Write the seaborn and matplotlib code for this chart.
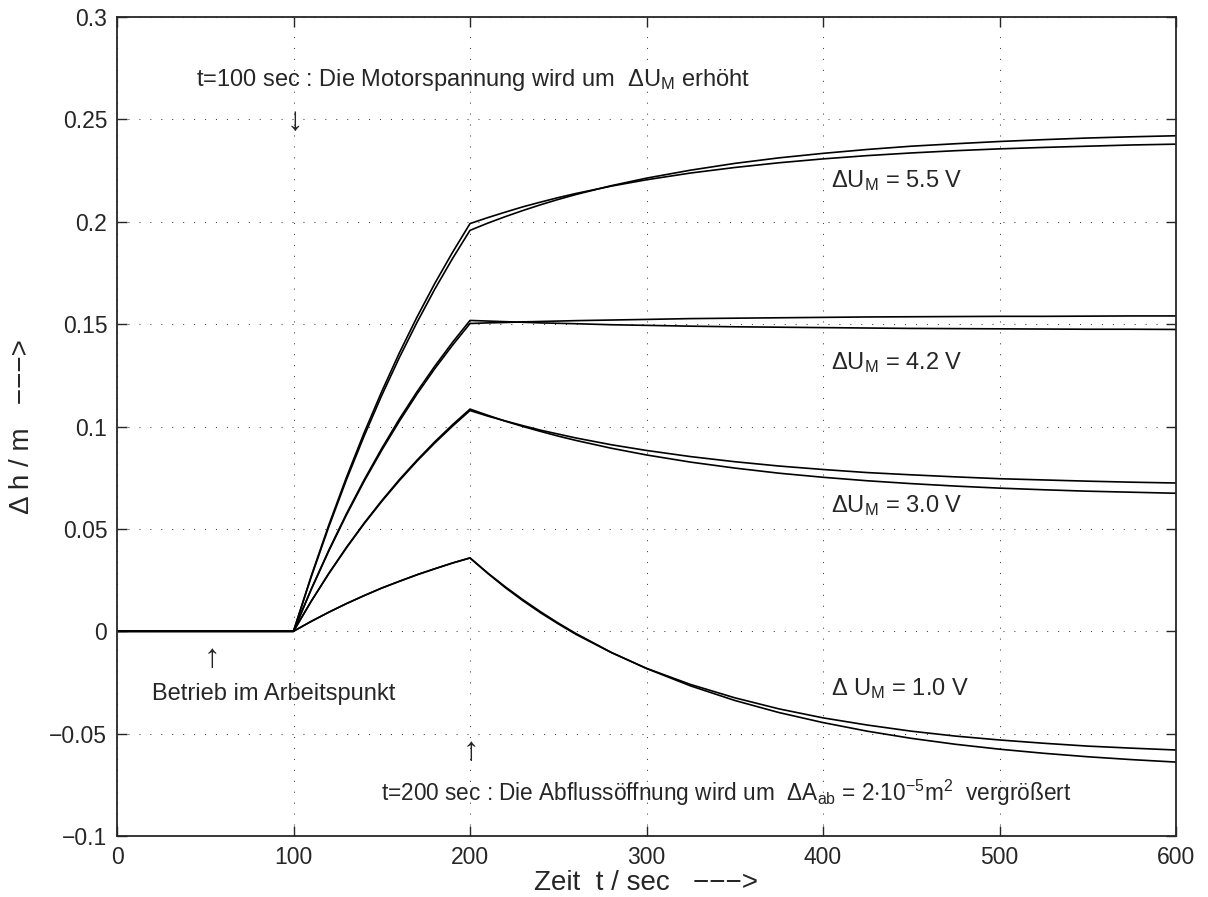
import matplotlib
matplotlib.use("Agg")
import matplotlib.pyplot as plt
import pandas as pd
import seaborn as sns

# time axis (sec) and the read-off level changes (m), two model curves per step
t = [0, 100, 110, 120, 130, 140, 150, 160, 170, 180, 190, 200,
     210, 220, 230, 240, 250, 260, 280, 300, 325, 350, 375, 400, 425, 450, 475, 500,
     525, 550, 575, 600]

h55_a = [0, 0, 0.0269, 0.0519, 0.0752, 0.0969, 0.1171, 0.1360, 0.1535, 0.1698, 0.1849, 0.1991,
         0.2020, 0.2047, 0.2073, 0.2096, 0.2118, 0.2138, 0.2174, 0.2205, 0.2238, 0.2265,
         0.2288, 0.2307, 0.2323, 0.2336, 0.2347, 0.2356, 0.2363, 0.2369, 0.2375, 0.2379]
h55_b = [0, 0, 0.0264, 0.0510, 0.0740, 0.0953, 0.1152, 0.1337, 0.1509, 0.1670, 0.1819, 0.1958,
         0.1993, 0.2025, 0.2055, 0.2083, 0.2109, 0.2133, 0.2176, 0.2213, 0.2252, 0.2285,
         0.2312, 0.2334, 0.2353, 0.2369, 0.2381, 0.2392, 0.2401, 0.2409, 0.2415, 0.2420]
h42_a = [0, 0, 0.0205, 0.0396, 0.0574, 0.0739, 0.0893, 0.1037, 0.1170, 0.1294, 0.1410, 0.1518,
         0.1515, 0.1512, 0.1509, 0.1506, 0.1504, 0.1502, 0.1497, 0.1494, 0.1490, 0.1487,
         0.1485, 0.1483, 0.1481, 0.1479, 0.1478, 0.1477, 0.1476, 0.1475, 0.1475, 0.1474]
h42_b = [0, 0, 0.0203, 0.0392, 0.0568, 0.0732, 0.0884, 0.1026, 0.1159, 0.1282, 0.1396, 0.1503,
         0.1506, 0.1508, 0.1511, 0.1513, 0.1515, 0.1517, 0.1520, 0.1523, 0.1527, 0.1529,
         0.1531, 0.1533, 0.1535, 0.1536, 0.1537, 0.1538, 0.1538, 0.1539, 0.1540, 0.1540]
h30_a = [0, 0, 0.0146, 0.0283, 0.0410, 0.0528, 0.0638, 0.0741, 0.0836, 0.0925, 0.1008, 0.1085,
         0.1055, 0.1026, 0.1000, 0.0976, 0.0953, 0.0932, 0.0894, 0.0861, 0.0826, 0.0797,
         0.0772, 0.0752, 0.0735, 0.0721, 0.0709, 0.0699, 0.0691, 0.0684, 0.0679, 0.0674]
h30_b = [0, 0, 0.0146, 0.0281, 0.0407, 0.0525, 0.0634, 0.0736, 0.0831, 0.0919, 0.1001, 0.1078,
         0.1051, 0.1027, 0.1004, 0.0982, 0.0963, 0.0944, 0.0911, 0.0883, 0.0853, 0.0828,
         0.0807, 0.0790, 0.0775, 0.0764, 0.0754, 0.0745, 0.0739, 0.0733, 0.0728, 0.0724]
h10_a = [0, 0, 0.0048, 0.0093, 0.0135, 0.0174, 0.0211, 0.0244, 0.0276, 0.0305, 0.0333, 0.0358,
         0.0285, 0.0217, 0.0154, 0.0095, 0.0040, -0.0011, -0.0103, -0.0182, -0.0267, -0.0338,
         -0.0397, -0.0446, -0.0488, -0.0523, -0.0552, -0.0576, -0.0596, -0.0613, -0.0627, -0.0639]
h10_b = [0, 0, 0.0048, 0.0093, 0.0135, 0.0174, 0.0211, 0.0244, 0.0276, 0.0305, 0.0333, 0.0358,
         0.0283, 0.0213, 0.0149, 0.0090, 0.0036, -0.0015, -0.0104, -0.0181, -0.0260, -0.0325,
         -0.0379, -0.0423, -0.0458, -0.0488, -0.0512, -0.0531, -0.0547, -0.0561, -0.0571, -0.0580]

xticks = [0, 100, 200, 300, 400, 500, 600]
yticks = [-0.1, -0.05, 0, 0.05, 0.1, 0.15, 0.2, 0.25, 0.3]
ytick_labels = ["\u22120.1", "\u22120.05", "0", "0.05", "0.1", "0.15", "0.2", "0.25", "0.3"]

sns.set_style("ticks")
plt.rcParams["font.family"] = ["Liberation Sans", "DejaVu Sans"]
plt.rcParams["mathtext.fontset"] = "custom"
plt.rcParams["mathtext.rm"] = "Liberation Sans"
plt.rcParams["mathtext.it"] = "Liberation Sans:italic"
plt.rcParams["mathtext.sf"] = "Liberation Sans"

fig = plt.figure(figsize=(12.08, 8.97), dpi=100)
ax = fig.add_axes([117 / 1208, 1 - 836 / 897, (1176 - 117) / 1208, (836 - 17) / 897])

for h in [h55_a, h55_b, h42_a, h42_b, h30_a, h30_b, h10_a, h10_b]:
    sns.lineplot(x=t, y=h, color="black", linewidth=1.2, ax=ax)

ax.set_xlim(0, 600)
ax.set_ylim(-0.1, 0.3)
ax.set_xticks(xticks)
ax.set_xticklabels([str(v) for v in xticks])
ax.set_yticks(yticks)
ax.set_yticklabels(ytick_labels)
ax.grid(True, color="0.25", linestyle=(0, (1, 9.5)), linewidth=0.75)
ax.tick_params(direction="in", top=True, right=True, length=7.5, width=1.0,
               labelsize=16.5, pad=7)
for s in ax.spines.values():
    s.set_linewidth(1.3)
    s.set_visible(True)

ax.set_xlabel("Zeit  t / sec   \u2212\u2212\u2212>", fontsize=20, labelpad=1)
ax.set_ylabel("\u0394 h / m   \u2212\u2212\u2212>", fontsize=20, labelpad=10)

fs = 17
afs = 24  # arrows are drawn taller in the original
ax.text(45, 0.2663, r"t=100 sec : Die Motorspannung wird um  $\Delta$U$_{\mathrm{M}}$ erhöht",
        fontsize=fs, ha="left", va="baseline")
ax.text(100.8, 0.2492, "\u2193", fontsize=afs, ha="center", va="center")
ax.text(404.7, 0.2168, r"$\Delta$U$_{\mathrm{M}}$ = 5.5 V", fontsize=fs, ha="left", va="baseline")
ax.text(404.7, 0.1279, r"$\Delta$U$_{\mathrm{M}}$ = 4.2 V", fontsize=fs, ha="left", va="baseline")
ax.text(404.7, 0.0581, r"$\Delta$U$_{\mathrm{M}}$ = 3.0 V", fontsize=fs, ha="left", va="baseline")
ax.text(404.7, -0.0311, r"$\Delta$ U$_{\mathrm{M}}$ = 1.0 V", fontsize=fs, ha="left", va="baseline")
ax.text(53.6, -0.0135, "\u2191", fontsize=afs, ha="center", va="center")
ax.text(19.7, -0.0336, "Betrieb im Arbeitspunkt", fontsize=fs, ha="left", va="baseline")
ax.text(200.4, -0.0586, "\u2191", fontsize=afs, ha="center", va="center")
ax.text(149.6, -0.0829,
        r"t=200 sec : Die Abflussöffnung wird um  $\Delta$A$_{\mathrm{ab}}$ = 2$\cdot$10$^{-5}$m$^{2}$  vergrößert",
        fontsize=16.3, ha="left", va="baseline")

fig.savefig("out.png", dpi=100)
